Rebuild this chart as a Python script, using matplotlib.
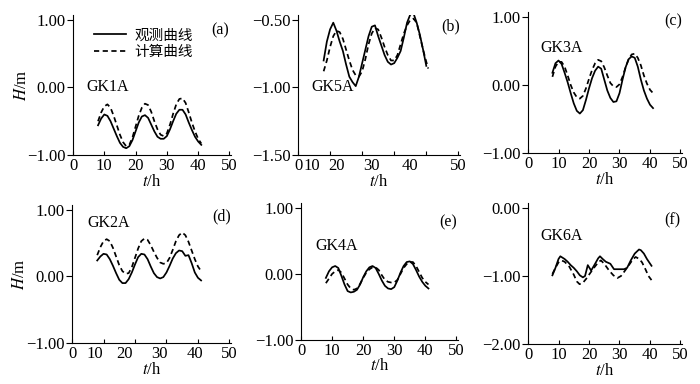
import matplotlib
matplotlib.use('Agg')
import matplotlib.pyplot as plt

plt.rcParams['font.family'] = ['Liberation Serif', 'Noto Sans CJK SC', 'DejaVu Sans']
plt.rcParams['mathtext.fontset'] = 'stix'

# ---- data ----
t_a = list(range(8, 42))
obs_a = [-0.56, -0.46, -0.40, -0.42, -0.50, -0.61, -0.72, -0.82, -0.88, -0.90, -0.87, -0.78,
         -0.65, -0.52, -0.43, -0.41, -0.45, -0.55, -0.65, -0.73, -0.76, -0.76, -0.72, -0.62,
         -0.50, -0.39, -0.33, -0.33, -0.40, -0.52, -0.63, -0.73, -0.80, -0.85]
cal_a = [-0.50, -0.37, -0.28, -0.25, -0.30, -0.42, -0.56, -0.70, -0.81, -0.87, -0.85, -0.74,
         -0.58, -0.42, -0.30, -0.24, -0.26, -0.36, -0.50, -0.62, -0.70, -0.72, -0.68, -0.55,
         -0.39, -0.25, -0.17, -0.16, -0.23, -0.37, -0.52, -0.65, -0.76, -0.83]

t_b_obs = list(range(8, 41))
obs_b = [-0.80, -0.66, -0.57, -0.52, -0.58, -0.66, -0.73, -0.83, -0.92, -0.96, -0.99, -0.92,
         -0.82, -0.72, -0.62, -0.55, -0.54, -0.62, -0.69, -0.76, -0.81, -0.83, -0.82, -0.78,
         -0.73, -0.63, -0.52, -0.46, -0.45, -0.52, -0.61, -0.72, -0.84]
t_b_cal = list(range(8, 41)) + [40.6]
cal_b = [-0.88, -0.80, -0.70, -0.62, -0.58, -0.59, -0.64, -0.72, -0.80, -0.87, -0.91, -0.92,
         -0.88, -0.79, -0.68, -0.60, -0.56, -0.57, -0.63, -0.70, -0.76, -0.80, -0.80, -0.76,
         -0.68, -0.60, -0.54, -0.50, -0.49, -0.52, -0.62, -0.72, -0.81, -0.86]

t_c = list(range(8, 42))
obs_c = [0.18, 0.32, 0.36, 0.31, 0.18, 0.04, -0.12, -0.27, -0.38, -0.42, -0.37, -0.22,
         -0.05, 0.10, 0.21, 0.27, 0.24, 0.08, -0.08, -0.19, -0.25, -0.24, -0.12, 0.08,
         0.26, 0.38, 0.42, 0.40, 0.27, 0.08, -0.08, -0.20, -0.29, -0.34]
cal_c = [0.12, 0.27, 0.34, 0.34, 0.27, 0.14, 0.00, -0.11, -0.18, -0.20, -0.16, -0.05,
         0.09, 0.22, 0.32, 0.37, 0.35, 0.26, 0.14, 0.03, -0.02, -0.03, 0.01, 0.12,
         0.26, 0.38, 0.45, 0.46, 0.40, 0.29, 0.14, 0.02, -0.07, -0.12]

t_d = list(range(8, 42))
obs_d = [0.24, 0.30, 0.34, 0.33, 0.26, 0.16, 0.05, -0.05, -0.10, -0.10, -0.04, 0.06,
         0.18, 0.29, 0.34, 0.33, 0.26, 0.15, 0.05, -0.01, -0.03, -0.01, 0.06, 0.16,
         0.27, 0.35, 0.39, 0.38, 0.31, 0.32, 0.20, 0.06, -0.02, -0.06]
cal_d = [0.32, 0.44, 0.53, 0.56, 0.53, 0.43, 0.30, 0.17, 0.08, 0.04, 0.05, 0.14,
         0.28, 0.42, 0.53, 0.57, 0.55, 0.47, 0.37, 0.28, 0.21, 0.19, 0.20, 0.28,
         0.40, 0.53, 0.62, 0.66, 0.62, 0.52, 0.39, 0.26, 0.15, 0.08]

t_e = list(range(8, 42))
obs_e = [-0.06, 0.04, 0.10, 0.12, 0.09, -0.03, -0.16, -0.26, -0.28, -0.27, -0.24, -0.16,
         -0.05, 0.04, 0.10, 0.12, 0.09, 0.00, -0.10, -0.18, -0.22, -0.23, -0.20, -0.10,
         0.02, 0.12, 0.18, 0.19, 0.15, 0.06, -0.04, -0.12, -0.18, -0.22]
cal_e = [-0.14, -0.07, 0.00, 0.04, 0.06, 0.02, -0.07, -0.16, -0.22, -0.24, -0.22, -0.15,
         -0.06, 0.02, 0.07, 0.10, 0.10, 0.06, -0.02, -0.09, -0.12, -0.13, -0.13, -0.09,
         0.00, 0.09, 0.15, 0.18, 0.18, 0.12, 0.03, -0.06, -0.12, -0.16]

t_f_obs = [8, 9, 10, 10.6, 12, 13, 14, 15, 16, 17, 18, 18.7, 19.6, 20.7, 22, 23, 23.6,
           24.5, 25.5, 27, 28.2, 30, 31.5, 32.5, 33.7, 35, 36.4, 37, 38, 39, 40.5]
obs_f = [-0.99, -0.88, -0.75, -0.71, -0.75, -0.79, -0.84, -0.88, -0.93, -0.99, -1.02, -1.00,
         -0.84, -0.92, -0.82, -0.74, -0.71, -0.75, -0.79, -0.82, -0.90, -0.90, -0.90, -0.88,
         -0.77, -0.67, -0.61, -0.62, -0.67, -0.75, -0.85]
t_f_cal = [8, 9, 10, 10.9, 12, 13.5, 15, 16, 16.9, 18, 19.1, 20.5, 21.8, 23, 23.9, 25,
           26.6, 28, 29.3, 30.5, 31.5, 33.1, 34.3, 35.3, 36.5, 37.4, 38.5, 39.5, 40.5]
cal_f = [-0.97, -0.88, -0.80, -0.77, -0.79, -0.86, -0.98, -1.08, -1.12, -1.10, -1.04, -0.95,
         -0.87, -0.80, -0.77, -0.82, -0.92, -0.99, -1.03, -1.00, -0.94, -0.84, -0.76, -0.72,
         -0.75, -0.80, -0.90, -1.00, -1.06]

wells = ['GK1A', 'GK5A', 'GK3A', 'GK2A', 'GK4A', 'GK6A']
tags = ['(a)', '(b)', '(c)', '(d)', '(e)', '(f)']
yticks = [[-1.0, 0.0, 1.0], [-1.5, -1.0, -0.5], [-1.0, 0.0, 1.0],
          [-1.0, 0.0, 1.0], [-1.0, 0.0, 1.0], [-2.0, -1.0, 0.0]]
xticks = [0, 10, 20, 30, 40, 50]
# the printed x labels of (b) and (d) sit off their ticks
xlab_pos_b = [0.3, 4.3, 12, 23, 35, 50]
xlab_pos_d = [0, 7.2, 16.7, 27.7, 39.2, 50]
legend_labels = ['观测曲线', '计算曲线']

series = [(t_a, obs_a, t_a, cal_a), (t_b_obs, obs_b, t_b_cal, cal_b), (t_c, obs_c, t_c, cal_c),
          (t_d, obs_d, t_d, cal_d), (t_e, obs_e, t_e, cal_e), (t_f_obs, obs_f, t_f_cal, cal_f)]

# layout (figure fractions) and label spots
rects = [[0.1043, 0.5964, 0.2257, 0.3646], [0.4257, 0.5964, 0.2314, 0.3646],
         [0.7543, 0.6016, 0.2200, 0.3672], [0.1029, 0.1068, 0.2271, 0.3594],
         [0.4300, 0.1146, 0.2243, 0.3568], [0.7543, 0.1042, 0.2200, 0.3672]]
well_xy = [(4.4, 0.0), (4.2, -1.0), (3.9, 0.54), (4.8, 0.81), (4.5, 0.43), (3.9, -0.41)]
tag_xy = [(0.93, 0.89), (0.94, 0.92), (0.94, 0.93), (0.94, 0.92), (0.94, 0.86), (0.94, 0.88)]


def ylab(v):
    s = '%.2f' % abs(v)
    return '\u2212' + s if v < 0 else s


fig = plt.figure(figsize=(7, 3.84), dpi=100)

for i in range(6):
    ax = fig.add_axes(rects[i])
    to, yo, tc, yc = series[i]
    ax.plot(to, yo, color='black', lw=1.25, label=legend_labels[0])
    ax.plot(tc, yc, color='black', lw=1.25, ls=(0, (3, 2)), label=legend_labels[1])

    lo, hi = yticks[i][0], yticks[i][-1]
    ax.set_ylim(lo, hi + (hi - lo) * 0.037)
    ax.set_xlim(0, 50.5)
    ax.set_yticks(yticks[i])
    ax.set_yticklabels([ylab(v) for v in yticks[i]])
    ax.set_xticks(xticks)
    ax.spines['top'].set_visible(False)
    ax.spines['right'].set_visible(False)
    ax.tick_params(axis='x', direction='in', length=3, labelsize=12, pad=2)
    ax.tick_params(axis='y', direction='out', length=4, labelsize=12, pad=1.5)

    if i in (1, 3):
        pos = xlab_pos_b if i == 1 else xlab_pos_d
        ax.set_xticklabels([])
        for p, v in zip(pos, xticks):
            ax.annotate(str(v), xy=(p, 0), xycoords=('data', 'axes fraction'),
                        xytext=(0, -2), textcoords='offset points',
                        ha='center', va='top', fontsize=12)

    ax.set_xlabel('$t$/h', fontsize=12)
    ax.xaxis.set_label_coords(0.5, -0.135)
    if i in (0, 3):
        ax.set_ylabel('$H$/m', fontsize=12)
        ax.yaxis.set_label_coords(-0.275, 0.5)

    ax.text(well_xy[i][0], well_xy[i][1], wells[i], fontsize=11.5, ha='left', va='center')
    ax.text(tag_xy[i][0], tag_xy[i][1], tags[i], fontsize=11.5, ha='center', va='center',
            transform=ax.transAxes)

    if i == 0:
        ax.legend(loc='upper left', bbox_to_anchor=(0.13, 0.905), frameon=False,
                  prop={'family': ['Noto Sans CJK SC'], 'size': 10.5},
                  handlelength=2.2, handletextpad=0.6, labelspacing=0.2,
                  borderpad=0, borderaxespad=0)

fig.savefig('out.png', dpi=100)
